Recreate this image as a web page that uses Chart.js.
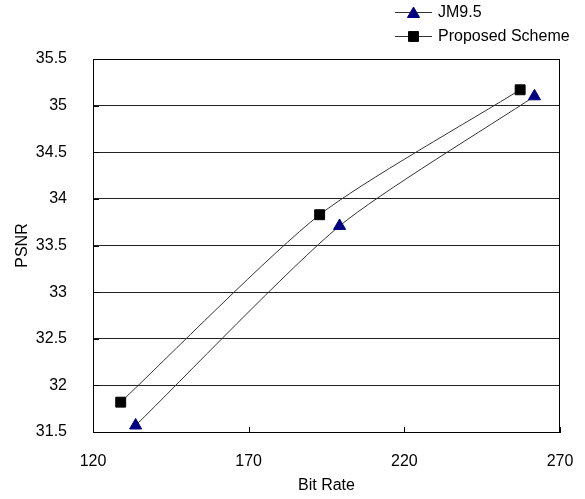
<!DOCTYPE html>
<html>
<head>
<meta charset="utf-8">
<script src="https://cdn.jsdelivr.net/npm/chart.js@4/dist/chart.umd.min.js"></script>
<style>
  html, body { margin: 0; padding: 0; background: #fff; }
  #wrap { width: 585px; height: 499px; }
</style>
</head>
<body>
<div id="wrap"><canvas id="c" width="585" height="499"></canvas></div>
<script>
const seriesNames = ["JM9.5", "Proposed Scheme"];
const bitRateJM = [133.7, 199.2, 261.8];
const psnrJM = [31.57, 33.71, 35.10];
const bitRateProposed = [128.9, 192.8, 257.2];
const psnrProposed = [31.82, 33.83, 35.17];
const xTicks = [120, 170, 220, 270];
const yTicks = [31.5, 32, 32.5, 33, 33.5, 34, 34.5, 35, 35.5];
const xTitle = "Bit Rate";
const yTitle = "PSNR";

const FONT = "'Liberation Sans', Arial, sans-serif";

const toPts = (xs, ys) => xs.map((x, i) => ({ x: x, y: ys[i] }));

const frame = {
  id: 'frame',
  afterDraw(chart) {
    const ctx = chart.ctx;
    const a = chart.chartArea;
    const xs = chart.scales.x;
    const ys = chart.scales.y;
    ctx.save();
    ctx.strokeStyle = '#000';
    ctx.lineWidth = 1;
    ctx.strokeRect(Math.round(a.left) + 0.5, Math.round(a.top) + 0.5,
                   Math.round(a.right - a.left) - 1, Math.round(a.bottom - a.top));
    xTicks.forEach(v => {
      const px = Math.round(xs.getPixelForValue(v)) + 0.5;
      ctx.beginPath();
      ctx.moveTo(px, a.bottom);
      ctx.lineTo(px, a.bottom - 5);
      ctx.stroke();
    });
    yTicks.forEach(v => {
      const py = Math.round(ys.getPixelForValue(v)) + 0.5;
      ctx.beginPath();
      ctx.moveTo(a.left, py);
      ctx.lineTo(a.left + 6, py);
      ctx.stroke();
    });
    const items = chart.data.datasets;
    const lx = 395, lw = 37, tx = 438;
    const rows = [12, 36];
    ctx.font = "16px " + FONT;
    ctx.textBaseline = 'middle';
    ctx.textAlign = 'left';
    items.forEach((ds, i) => {
      const y = rows[i] + 0.5;
      ctx.strokeStyle = '#333';
      ctx.lineWidth = 1;
      ctx.beginPath();
      ctx.moveTo(lx, y);
      ctx.lineTo(lx + lw, y);
      ctx.stroke();
      ctx.fillStyle = ds.pointBackgroundColor;
      ctx.strokeStyle = ds.pointBorderColor;
      Chart.helpers.drawPoint(ctx, {
        pointStyle: ds.pointStyle, radius: ds.pointRadius, rotation: 0, borderWidth: 1
      }, lx + lw / 2, y + (ds.pointStyle === 'triangle' ? 1.5 : 0));
      ctx.fillStyle = '#000';
      ctx.fillText(ds.label, tx, y);
    });
    ctx.restore();
  }
};

const chart = new Chart(document.getElementById('c'), {
  type: 'line',
  data: {
    datasets: [
      {
        label: seriesNames[0],
        data: toPts(bitRateJM, psnrJM),
        borderColor: '#333',
        borderWidth: 1,
        tension: 0.22,
        pointStyle: 'triangle',
        pointRadius: 7,
        pointBackgroundColor: '#000080',
        pointBorderColor: '#000080',
        pointBorderWidth: 1,
        fill: false
      },
      {
        label: seriesNames[1],
        data: toPts(bitRateProposed, psnrProposed),
        borderColor: '#333',
        borderWidth: 1,
        tension: 0.22,
        pointStyle: 'rect',
        pointRadius: 7,
        pointBackgroundColor: '#000',
        pointBorderColor: '#000',
        pointBorderWidth: 1,
        fill: false
      }
    ]
  },
  options: {
    responsive: false,
    animation: false,
    devicePixelRatio: 1,
    layout: { padding: { top: 59, right: 25, left: 0, bottom: 0 } },
    plugins: {
      legend: { display: false },
      tooltip: { enabled: false }
    },
    scales: {
      x: {
        type: 'linear',
        min: 120, max: 270,
        afterBuildTicks: s => { s.ticks = xTicks.map(v => ({ value: v })); },
        afterFit: s => { s.height = 67; s.paddingLeft = 0; s.paddingRight = 0; },
        grid: { display: false, drawTicks: false },
        border: { display: true, color: '#000', width: 1 },
        ticks: {
          color: '#000', padding: 20,
          font: { family: FONT, size: 16 },
          maxRotation: 0
        },
        title: {
          display: true, text: xTitle, color: '#000',
          font: { family: FONT, size: 16 },
          padding: { top: 4, bottom: 4 }
        }
      },
      y: {
        type: 'linear',
        min: 31.5, max: 35.5,
        afterBuildTicks: s => { s.ticks = yTicks.map(v => ({ value: v })); },
        afterFit: s => { s.width = 93; s.paddingTop = 0; s.paddingBottom = 0; },
        grid: { color: '#222', lineWidth: 1, drawTicks: false },
        border: { display: true, color: '#000', width: 1 },
        ticks: {
          color: '#000', padding: 26,
          font: { family: FONT, size: 16 },
          callback: v => String(v)
        },
        title: {
          display: true, text: yTitle, color: '#000',
          font: { family: FONT, size: 16 },
          padding: { top: 13, bottom: 0 }
        }
      }
    }
  },
  plugins: [frame]
});
</script>
</body>
</html>
